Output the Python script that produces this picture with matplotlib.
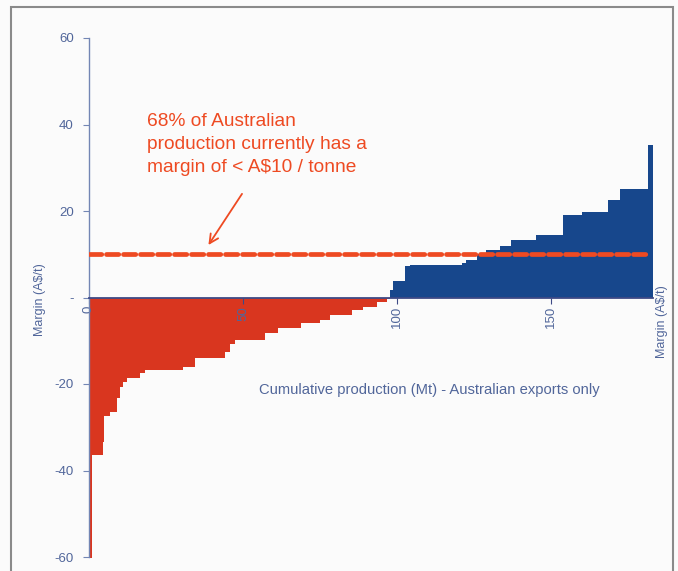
import numpy as np
import matplotlib.pyplot as plt
from matplotlib.patches import Rectangle

# producao por mina (Mt) e margem (A$/t), ordenadas da pior para a melhor
producao = [1.1, 3.3, 0.6, 1.8, 2.2, 1.0, 1.1, 1.1, 4.3, 1.7, 12.4, 3.8, 9.8,
            1.6, 1.6, 9.7, 4.4, 7.5, 6.0, 3.2, 7.1, 3.7, 4.4, 3.3, 1.0,
            1.1, 3.8, 1.6, 8.8, 8.0, 1.6, 3.3, 3.2, 4.3, 3.6, 8.3, 8.7, 6.0,
            8.6, 3.8, 9.2, 1.6]
margem = [-60.5, -36.4, -33.3, -27.5, -26.4, -23.3, -20.8, -19.6, -18.7,
          -17.4, -16.7, -16.0, -14.1, -12.5, -10.8, -9.9, -8.3, -7.1, -6.0,
          -5.2, -4.0, -3.0, -2.1, -1.0, -0.3,
          1.7, 3.7, 7.3, 7.5, 7.6, 8.0, 8.7, 10.0, 11.0, 11.8, 13.3, 14.5,
          19.1, 19.8, 22.5, 25.0, 35.3]

limite = 10
yticks = [60, 40, 20, 0, -20, -40, -60]
yticklabels = ['60', '40', '20', '-', '-20', '-40', '-60']
xticks = [0, 50, 100, 150]
xticklabels = ['0', '50', '100', '150']

texto = '68% of Australian\nproduction currently has a\nmargin of < A$10 / tonne'

vermelho = '#d9361f'
azul = '#17478c'
laranja = '#ee4a22'
cinza_azul = '#51669a'

plt.rcParams['font.family'] = ['Liberation Sans', 'DejaVu Sans']

fig = plt.figure(figsize=(6.78, 5.71), dpi=100)
fig.patch.set_facecolor('#fbfbfb')
ax = fig.add_axes([89/678, 14/571, (653-89)/678, (557-38)/571])
ax.set_facecolor('none')

# curva em degraus: parte negativa em vermelho, positiva em azul
bordas = np.concatenate([[0], np.cumsum(producao)])
y = np.array(margem + [margem[-1]])
ax.fill_between(bordas, 0, np.minimum(y, 0), step='post', color=vermelho,
                linewidth=0)
ax.fill_between(bordas, 0, np.maximum(y, 0), step='post', color=azul,
                linewidth=0)

# linha de corte de A$10
ax.plot([0, 182.2], [limite, limite], color=laranja, linewidth=3.4,
        dashes=(2.6, 1.0), dash_capstyle='round', zorder=3)

ax.annotate('', xy=(38.3, 11.6), xytext=(50.2, 24.5),
            arrowprops=dict(arrowstyle='->', color=laranja, lw=1.3,
                            mutation_scale=16))
ax.text(18.8, 42.6, texto, color=laranja, fontsize=13.8, va='top',
        ha='left', linespacing=1.45)

ax.set_xlim(0, bordas[-1])
ax.set_ylim(-60, 60)

for lado in ['top', 'right']:
    ax.spines[lado].set_visible(False)
ax.spines['bottom'].set_position(('data', 0))
ax.spines['bottom'].set_color('#3e4a86')
ax.spines['bottom'].set_linewidth(1.3)
ax.spines['bottom'].set_zorder(4)
ax.spines['left'].set_color('#7386b4')
ax.spines['left'].set_linewidth(1.0)

ax.set_yticks(yticks)
ax.set_yticklabels(yticklabels)
ax.set_xticks(xticks)
ax.set_xticklabels(xticklabels, rotation=90, va='top')
ax.tick_params(axis='y', colors='#7386b4', labelcolor=cinza_azul,
               labelsize=9.5, length=4, pad=7)
ax.tick_params(axis='x', colors='#3e4a86', labelcolor=cinza_azul,
               labelsize=9.5, length=4, pad=2)

ax.set_ylabel('Margin (A$/t)', color=cinza_azul, fontsize=9)
ax.yaxis.set_label_coords(-0.077, 0.495)
ax.text(110.4, -21.4, 'Cumulative production (Mt) - Australian exports only',
        color=cinza_azul, fontsize=10.6, ha='center', va='center')
fig.text(662/678, 1 - 322/571, 'Margin (A$/t)', color=cinza_azul,
         fontsize=9, rotation=90, ha='center', va='center')

# moldura da figura
fig.patches.append(Rectangle((11/678, -0.05), (673-11)/678, 1.05 - 7/571,
                             transform=fig.transFigure, fill=False,
                             edgecolor='#8a8a8a', linewidth=1.5))

fig.savefig('out.png', dpi=100, facecolor=fig.get_facecolor())
